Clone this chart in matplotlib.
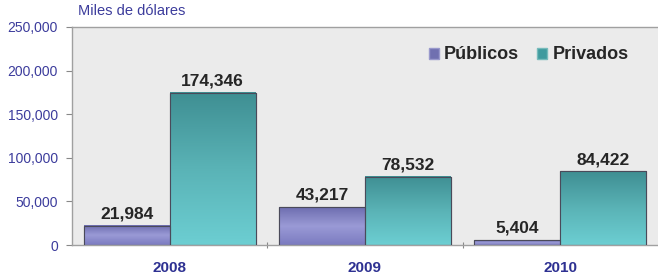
import numpy as np
import matplotlib.pyplot as plt
from matplotlib.colors import LinearSegmentedColormap

plt.rcParams['font.family'] = ['Liberation Sans', 'DejaVu Sans']

# datos
anios = ['2008', '2009', '2010']
publicos = [21984, 43217, 5404]
privados = [174346, 78532, 84422]
etiquetas = ['Públicos', 'Privados']

fig = plt.figure(figsize=(6.58, 2.75), dpi=100)
ax = fig.add_axes([0.1094, 0.109, 0.8906, 0.793])
ax.set_facecolor('#EBEBEB')

x = np.arange(len(anios))
w = 0.44

cm_pub = LinearSegmentedColormap.from_list('pub', ['#7B7BC0', '#9A9AD6', '#6E6EB0'])
cm_pri = LinearSegmentedColormap.from_list('pri', ['#6CCED2', '#5AB3B6', '#3F8F93'])


def barras(pos, vals, cmap, color, lab):
    bars = ax.bar(pos, vals, w, color=color, edgecolor='#5A5A6A', linewidth=0.8, label=lab, zorder=2)
    grad = np.linspace(0, 1, 100).reshape(-1, 1)
    for b in bars:
        x0, y0 = b.get_x(), b.get_y()
        ax.imshow(grad, cmap=cmap, aspect='auto', origin='lower',
                  extent=(x0, x0 + b.get_width(), y0, y0 + b.get_height()), zorder=2.5)
        ax.add_patch(plt.Rectangle((x0, y0), b.get_width(), b.get_height(), fill=False,
                                   edgecolor='#4A4A5A', linewidth=0.8, zorder=3))
    return bars


b1 = barras(x - w / 2, publicos, cm_pub, '#8080C8', etiquetas[0])
b2 = barras(x + w / 2, privados, cm_pri, '#4FA8AC', etiquetas[1])

for bars in (b1, b2):
    for b in bars:
        ax.text(b.get_x() + b.get_width() / 2, b.get_height() + 5000, f'{int(b.get_height()):,}',
                ha='center', va='bottom', fontsize=12.5, fontweight='bold', color='#262626', zorder=4)

ax.set_xlim(-0.5, 2.5)
ax.set_ylim(0, 250000)
ax.set_yticks(np.arange(0, 250001, 50000))
ax.set_yticklabels([f'{v:,}' for v in range(0, 250001, 50000)], fontsize=10, color='#3C3C9C')
ax.tick_params(axis='y', length=4, color='#888888', pad=6)

ax.set_xticks([0.5, 1.5], minor=False)
ax.set_xticklabels([])
ax.tick_params(axis='x', length=4, direction='inout', color='#888888')
for i, a in enumerate(anios):
    ax.text(i, -26000, a, ha='center', va='center', fontsize=11, fontweight='bold', color='#2E3192')

for s in ['left', 'bottom', 'top']:
    ax.spines[s].set_color('#A0A0A0')
    ax.spines[s].set_linewidth(1)
ax.spines['right'].set_visible(False)

fig.text(0.118, 0.935, 'Miles de dólares', fontsize=10.5, color='#3C3C9C', ha='left', va='bottom')

h1 = plt.Rectangle((0, 0), 1, 1, facecolor='#7070B0', edgecolor='#9999CC')
h2 = plt.Rectangle((0, 0), 1, 1, facecolor='#3F9A9E', edgecolor='#77BBBB')
leg = ax.legend([h1, h2], etiquetas, loc='upper right', bbox_to_anchor=(0.978, 0.985), ncol=2,
                frameon=False, prop={'weight': 'bold', 'size': 13}, handlelength=0.55,
                handleheight=0.55, handletextpad=0.3, columnspacing=1.0)
for t in leg.get_texts():
    t.set_color('#262626')

fig.savefig('out.png', dpi=100)
